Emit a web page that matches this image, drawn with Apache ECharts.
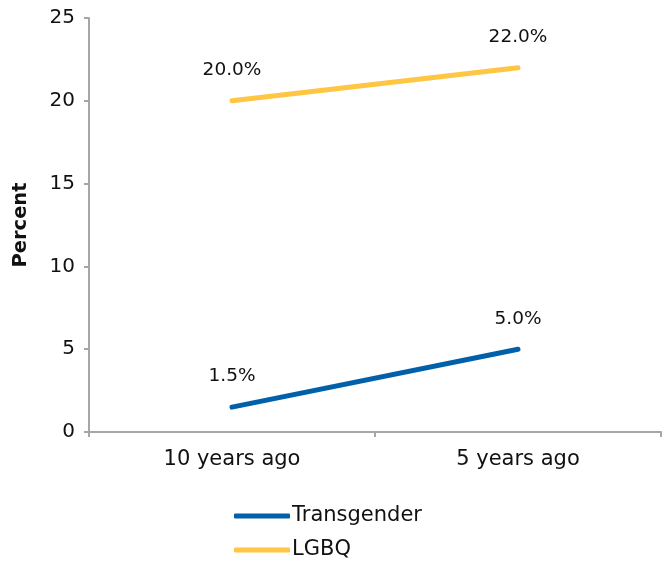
<!DOCTYPE html>
<html><head><meta charset="utf-8">
<script src="https://cdn.jsdelivr.net/npm/echarts@6/dist/echarts.min.js"></script>
<style>html,body{margin:0;padding:0;background:#fff}#c{width:670px;height:563px}</style>
</head><body><div id="c"></div>
<script>
const categories = ['10 years ago', '5 years ago'];
const transgender = [1.5, 5.0];
const lgbq = [20.0, 22.0];
const yTicks = [0, 5, 10, 15, 20, 25];

const font = '"DejaVu Sans", "Liberation Sans", Arial, sans-serif';
const chart = echarts.init(document.getElementById('c'));
const labelCfg = {show: true, position: 'top', distance: 21, fontSize: 18.5, color: '#111', fontFamily: font,
  formatter: p => Number(p.value).toFixed(1) + '%'};
chart.setOption({
  animation: false,
  textStyle: {fontFamily: font},
  grid: {left: 89, right: 9, top: 18, bottom: 131},
  xAxis: {
    type: 'category', data: categories, boundaryGap: true,
    axisLine: {lineStyle: {color: '#a6a6a6', width: 2}},
    axisTick: {show: true, length: 5, lineStyle: {color: '#a6a6a6', width: 2}},
    axisLabel: {fontSize: 21, color: '#111', margin: 17, fontFamily: font}
  },
  yAxis: {
    type: 'value', min: yTicks[0], max: yTicks[yTicks.length - 1], interval: 5,
    name: 'Percent', nameLocation: 'middle', nameGap: 58, nameRotate: 90,
    nameTextStyle: {fontSize: 19.5, fontWeight: 'bold', color: '#111', fontFamily: font},
    axisLine: {show: true, lineStyle: {color: '#a6a6a6', width: 2}},
    axisTick: {show: true, length: 5, lineStyle: {color: '#a6a6a6', width: 2}},
    splitLine: {show: false},
    axisLabel: {fontSize: 20, color: '#111', margin: 14, fontFamily: font}
  },
  legend: {
    orient: 'vertical', left: 234, top: 504, padding: 0, itemWidth: 56, itemHeight: 5, itemGap: 10,
    icon: 'roundRect',
    textStyle: {fontSize: 21, lineHeight: 24, color: '#111', fontFamily: font, padding: [0, 0, 0, -3]},
    data: ['Transgender', 'LGBQ']
  },
  series: [
    {name: 'Transgender', type: 'line', data: transgender, symbol: 'circle', symbolSize: 0, showSymbol: true,
     lineStyle: {width: 5, color: '#0061aa', cap: 'round'}, itemStyle: {color: '#0061aa'}, label: labelCfg},
    {name: 'LGBQ', type: 'line', data: lgbq, symbol: 'circle', symbolSize: 0, showSymbol: true,
     lineStyle: {width: 5, color: '#fec642', cap: 'round'}, itemStyle: {color: '#fec642'}, label: labelCfg}
  ]
});
</script></body></html>
